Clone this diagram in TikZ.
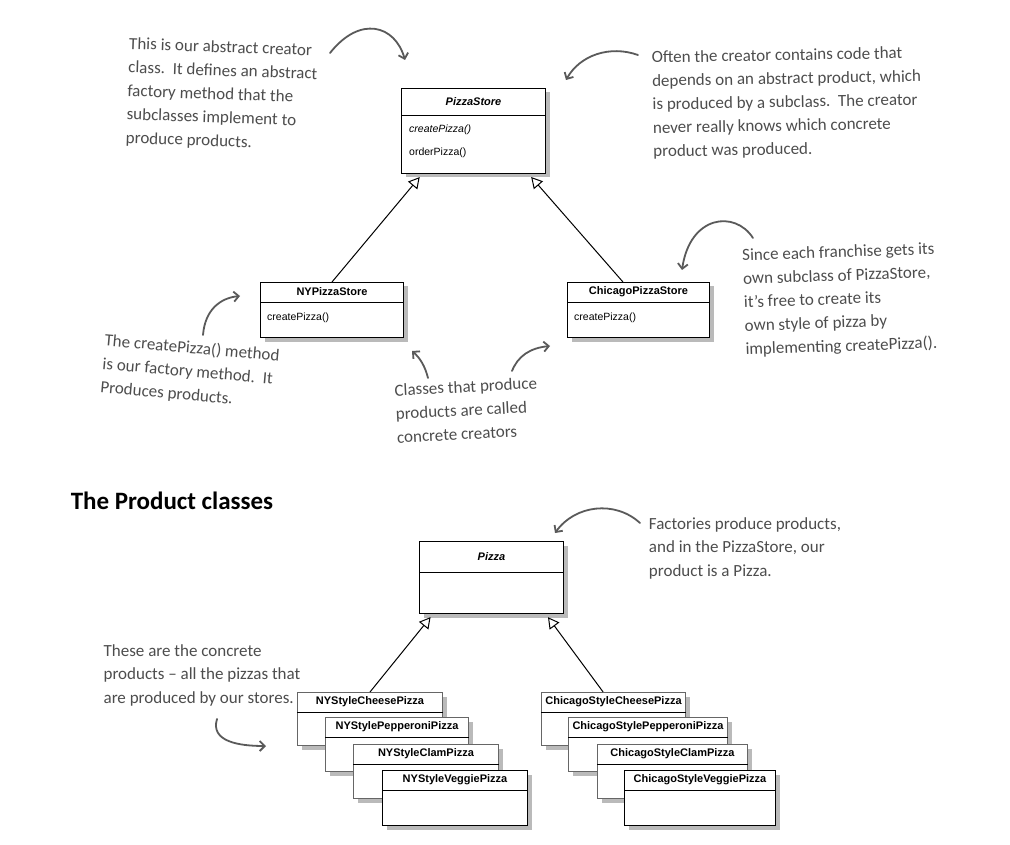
\documentclass[tikz,border=0pt]{standalone}
\usepackage{fontspec}
\setmainfont{Carlito}
\newfontfamily\umlfont{Liberation Sans}
\usepackage{tikz}
\usetikzlibrary{arrows.meta,calc,shadows}
\definecolor{ink}{HTML}{4D4D4D}
\definecolor{pencil}{HTML}{5A5A5A}

% class box: [extra style]{name}{x}{y}{width}{height}{header height}{title}
\newcommand{\classbox}[8][]{%
  \node[cls, #1, minimum width=#5, minimum height=#6] (#2) at (#3,#4) {};
  \draw[sep] ($(#2.north west)+(0,#7)$) -- ($(#2.north east)+(0,#7)$);
  \node[ctitle] (#2-title) at ($(#2.north)+(0,{#7/2})$) {#8};
}

\begin{document}
\begin{tikzpicture}[
  x=1pt, y=-1pt,
  cls/.style={rectangle, draw, fill=white, line width=1pt, inner sep=0pt, anchor=north west,
    drop shadow={shadow xshift=4pt, shadow yshift=-4pt, opacity=0.45, fill=black!60}},
  back/.style={draw=black!60},
  sep/.style={line width=0.9pt},
  ctitle/.style={font=\umlfont\bfseries\fontsize{11}{13}\selectfont, inner sep=0pt},
  meth/.style={font=\umlfont\fontsize{10.5}{13}\selectfont, inner sep=0pt, anchor=west},
  inherit/.style={-{Triangle[open, length=11pt, width=12pt]}, line width=1pt, shorten >=4pt},
  note/.style={text=ink, align=left, inner sep=0pt, font=\fontsize{17}{23.5}\selectfont},
  pen/.style={-{Straight Barb[length=5pt, width=10pt]}, draw=pencil, line width=1.8pt, line cap=round}
]
\useasboundingbox[fill=white] (0,0) rectangle (1010,845);

% creator classes
\classbox{store}{401}{88}{144}{85}{27}{\itshape PizzaStore}
\node[meth] (store-m1) at ($(store.north west)+(8,42)$) {\itshape createPizza()};
\node[meth] (store-m2) at ($(store.north west)+(8,65)$) {orderPizza()};

\classbox{ny}{260}{282}{143}{55}{20}{NYPizzaStore}
\node[meth] (ny-m1) at ($(ny.north west)+(7,36)$) {createPizza()};

\classbox{chi}{567}{282}{142}{55}{20}{ChicagoPizzaStore}
\node[meth] (chi-m1) at ($(chi.north west)+(7,36)$) {createPizza()};

\draw[inherit] (ny.north) -- (store.220);
\draw[inherit] (chi.119) -- (store.322);

% notes on the creators
\node[note, rotate=-2] (noteCreator) at (222,95)
  {This is our abstract creator\\class.\ \ It defines an abstract\\factory method that the\\subclasses implement to\\produce products.};
\node[note, rotate=1] (noteProduct) at (787,103)
  {Often the creator contains code that\\depends on an abstract product, which\\is produced by a subclass.\ \ The creator\\never really knows which concrete\\product was produced.};
\node[note, rotate=-5] (noteMethod) at (190,372)
  {The createPizza() method\\is our factory method.\ \ It\\Produces products.};
\node[note, rotate=3] (noteConcrete) at (467,410)
  {Classes that produce\\products are called\\concrete creators};
\node[note, rotate=2] (noteFranchise) at (840,300)
  {Since each franchise gets its\\own subclass of PizzaStore,\\it’s free to create its\\own style of pizza by\\implementing createPizza().};

\coordinate (p1s) at (330,53);  \coordinate (p1e) at (405,60);
\coordinate (p2s) at (638,55);  \coordinate (p2e) at (566,80);
\coordinate (p3s) at (203,335); \coordinate (p3e) at (240,296);
\coordinate (p4s) at (428,378); \coordinate (p4e) at (412,351);
\coordinate (p5s) at (512,371); \coordinate (p5e) at (550,346);
\coordinate (p6s) at (753,238); \coordinate (p6e) at (682,270);
\draw[pen] (p1s) .. controls (360,15) and (395,25) .. (p1e);
\draw[pen] (p2s) .. controls (610,45) and (580,55) .. (p2e);
\draw[pen] (p3s) .. controls (205,310) and (220,298) .. (p3e);
\draw[pen] (p4s) .. controls (425,366) and (420,358) .. (p4e);
\draw[pen] (p5s) .. controls (518,356) and (530,348) .. (p5e);
\draw[pen] (p6s) .. controls (735,210) and (690,215) .. (p6e);

% product classes
\node[font=\bfseries\fontsize{25}{28}\selectfont, inner sep=0pt] (prodTitle) at (172,501) {The Product classes};

\classbox{pizza}{419}{541}{144}{72}{31}{\itshape Pizza}

\classbox[back]{nyCheese}{297}{692}{145}{53}{20}{NYStyleCheesePizza}
\classbox[back]{nyPep}{325}{717}{143}{54}{20}{NYStylePepperoniPizza}
\classbox[back]{nyClam}{353}{744}{145}{54}{20}{NYStyleClamPizza}
\classbox{nyVeg}{382}{770}{145}{55}{20}{NYStyleVeggiePizza}

\classbox[back]{chCheese}{541}{692}{144}{53}{20}{ChicagoStyleCheesePizza}
\classbox[back]{chPep}{568}{717}{159}{54}{20}{ChicagoStylePepperoniPizza}
\classbox[back]{chClam}{597}{744}{150}{54}{20}{ChicagoStyleClamPizza}
\classbox{chVeg}{624}{770}{151}{55}{20}{ChicagoStyleVeggiePizza}

\draw[inherit] (nyCheese.north) -- (pizza.212);
\draw[inherit] (chCheese.111) -- (pizza.326);

% notes on the products
\node[note] (noteFactories) at (745,548)
  {Factories produce products,\\and in the PizzaStore, our\\product is a Pizza.};
\node[note] (notePizzas) at (202,675)
  {These are the concrete\\products – all the pizzas that\\are produced by our stores.};

\coordinate (p7s) at (640,523); \coordinate (p7e) at (555,533);
\coordinate (p8s) at (217,719); \coordinate (p8e) at (266,746);
\draw[pen] (p7s) .. controls (615,500) and (575,505) .. (p7e);
\draw[pen] (p8s) .. controls (210,742) and (240,746) .. (p8e);
\end{tikzpicture}
\end{document}
